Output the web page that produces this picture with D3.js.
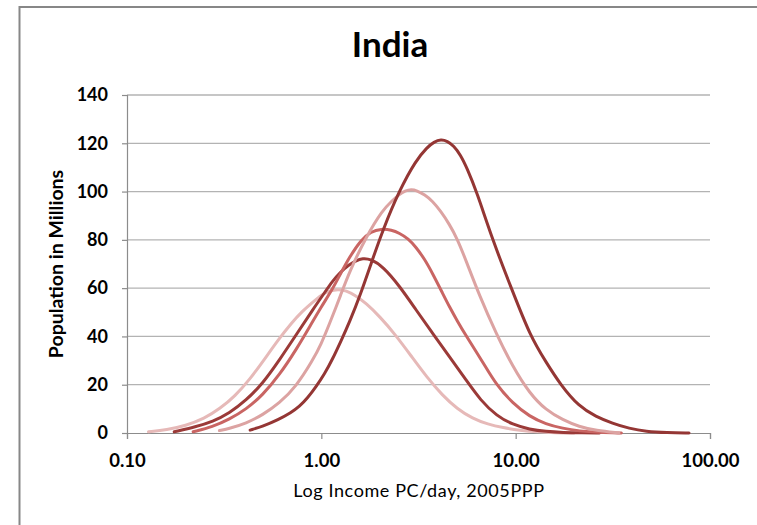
<!DOCTYPE html>
<html>
<head>
<meta charset="utf-8">
<script src="https://cdn.jsdelivr.net/npm/d3@7"></script>
<style>
  html, body { margin: 0; padding: 0; background: #fff; }
  svg { display: block; }
  text { font-family: "Lato", "Open Sans", sans-serif; fill: #000; }
</style>
</head>
<body>
<div id="chart"></div>
<script>
// Income distribution curves for India (population in millions by daily income, 2005 PPP)
const incomeA = [0.129, 0.16, 0.2, 0.25, 0.3, 0.36, 0.43, 0.5, 0.6, 0.7, 0.8, 0.9, 1.0, 1.1, 1.22, 1.34, 1.5, 1.7, 2.0, 2.4, 2.9, 3.5, 4.2, 5.0, 6.0, 7.2, 8.6, 10.5, 13, 16, 20];
const popA    = [0.5, 1.3, 3.0, 6.0, 10.0, 15.3, 22.4, 29.6, 38.6, 45.5, 50.5, 54.1, 57.2, 58.9, 59.6, 59.0, 57.0, 53.7, 48.2, 40.8, 31.9, 23.0, 15.6, 10.0, 6.0, 3.6, 2.2, 1.1, 0.4, 0.1, 0];

const incomeB = [0.175, 0.226, 0.276, 0.336, 0.41, 0.499, 0.608, 0.741, 0.902, 1.057, 1.14, 1.25, 1.39, 1.5, 1.632, 1.8, 2.07, 2.52, 3.07, 3.74, 4.56, 5.55, 6.6, 8.0, 9.65, 11.8, 14.3, 17.5, 22, 27];
const popB    = [0.5, 2.6, 4.7, 8.2, 13.5, 20.5, 30.2, 40.6, 51.0, 59.0, 62.8, 66.6, 69.7, 71.3, 72.4, 72.0, 69.0, 61.0, 51.0, 41.3, 31.6, 22.0, 13.5, 7.0, 3.5, 1.5, 0.6, 0.2, 0.05, 0];

const incomeC = [0.219, 0.276, 0.336, 0.41, 0.499, 0.608, 0.741, 0.885, 1.0, 1.14, 1.26, 1.39, 1.6, 1.8, 2.03, 2.3, 2.52, 2.8, 3.07, 3.4, 3.74, 4.2, 4.56, 5.0, 5.55, 6.76, 7.93, 9.65, 11.8, 14.3, 17.5, 21.2, 27, 35];
const popC    = [0.5, 2.6, 5.7, 9.8, 15.7, 24.0, 34.4, 45.0, 52.3, 59.5, 66.2, 72.6, 80, 83.4, 84.6, 84.1, 82.8, 80.5, 77, 72, 66, 58, 52.3, 46.5, 40.3, 29.5, 20.0, 12.3, 6.8, 3.7, 1.9, 0.8, 0.2, 0];

const incomeD = [0.299, 0.336, 0.41, 0.499, 0.608, 0.741, 0.902, 1.0, 1.099, 1.263, 1.39, 1.70, 2.07, 2.3, 2.52, 2.7, 2.9, 3.1, 3.4, 3.74, 4.1, 4.56, 5.0, 5.55, 6.5, 7.93, 9.65, 11.8, 14.3, 17.5, 21.2, 25.9, 34];
const popD    = [1.0, 1.9, 4.0, 7.5, 12.3, 19.2, 30.0, 37.0, 45.0, 57.5, 66.5, 81.3, 92.4, 96.0, 98.9, 100.3, 100.9, 100.4, 98.7, 96.0, 92.0, 86.5, 80.5, 71.5, 57.0, 41.3, 27.5, 16.4, 9.5, 5.4, 2.6, 1.0, 0];

const incomeE = [0.43, 0.5, 0.6, 0.7, 0.77, 0.85, 0.94, 1.04, 1.14, 1.26, 1.39, 1.6, 1.8, 2.07, 2.52, 3.07, 3.5, 3.8, 4.13, 4.45, 4.8, 5.2, 5.6, 6.3, 7.6, 9.5, 11.9, 14.3, 17.0, 21.2, 25.9, 31.5, 38.4, 46.8, 60, 78];
const popE    = [1.2, 2.8, 5.5, 8.5, 10.9, 14.5, 19.2, 24.5, 30.5, 38, 45.5, 58, 70, 84, 100.5, 113, 118.3, 120.6, 121.6, 120.9, 119, 115.2, 110, 100, 80, 60, 40, 29.5, 20, 10.9, 6.8, 4.0, 1.9, 0.6, 0.1, 0];

const seriesColors = ["#e6b9b8", "#9b3a38", "#c96563", "#dca3a2", "#943634"];

const xTicks = [0.1, 1, 10, 100];
const yTicks = [0, 20, 40, 60, 80, 100, 120, 140];

const chartTitle = "India";
const xTitle = "Log Income PC/day, 2005PPP";
const yTitle = "Population in Millions";

const series = [
  { income: incomeA, pop: popA },
  { income: incomeB, pop: popB },
  { income: incomeC, pop: popC },
  { income: incomeD, pop: popD },
  { income: incomeE, pop: popE }
].map((s, i) => ({
  color: seriesColors[i],
  points: s.income.map((v, j) => ({ x: v, y: s.pop[j] }))
}));

const W = 757, H = 525;
const plot = { left: 127, right: 710, top: 95, bottom: 433 };

const svg = d3.select("#chart").append("svg")
  .attr("width", W).attr("height", H);

svg.append("rect").attr("width", W).attr("height", H).attr("fill", "#fff");

// outer frame (left and top edges)
svg.append("path")
  .attr("d", `M19.5,${H} V7 H${W}`)
  .attr("fill", "none")
  .attr("stroke", "#878787")
  .attr("stroke-width", 2);

const x = d3.scaleLog().domain([0.1, 100]).range([plot.left, plot.right]);
const y = d3.scaleLinear().domain([0, 140]).range([plot.bottom, plot.top]);

// horizontal gridlines
svg.append("g")
  .selectAll("line")
  .data(yTicks.filter(d => d > 0))
  .join("line")
  .attr("x1", plot.left).attr("x2", plot.right)
  .attr("y1", d => y(d)).attr("y2", d => y(d))
  .attr("stroke", "#b3b3b3")
  .attr("stroke-width", 1.3);

// y axis
const yAxis = svg.append("g")
  .attr("transform", `translate(${plot.left},0)`)
  .call(d3.axisLeft(y).tickValues(yTicks).tickSize(5).tickPadding(14).tickFormat(d3.format("d")));
yAxis.select(".domain").attr("stroke", "#8c8c8c").attr("stroke-width", 1.2);
yAxis.selectAll(".tick line").attr("stroke", "#8c8c8c").attr("stroke-width", 1.2);
yAxis.selectAll(".tick text")
  .style("font-family", "Lato, 'Open Sans', sans-serif")
  .style("font-weight", "bold")
  .style("font-size", "18px")
  .attr("fill", "#000");

// x axis
const xAxis = svg.append("g")
  .attr("transform", `translate(0,${plot.bottom})`)
  .call(d3.axisBottom(x).tickValues(xTicks).tickSize(6).tickPadding(15).tickFormat(d3.format(".2f")));
xAxis.select(".domain").attr("stroke", "#8c8c8c").attr("stroke-width", 1.2);
xAxis.selectAll(".tick line").attr("stroke", "#8c8c8c").attr("stroke-width", 1.2);
xAxis.selectAll(".tick text")
  .style("font-family", "Lato, 'Open Sans', sans-serif")
  .style("font-weight", "bold")
  .style("font-size", "18.5px")
  .attr("fill", "#000");

// distribution curves (smoothed through the sampled points)
const line = d3.line()
  .x(d => x(d.x))
  .y(d => y(d.y))
  .curve(d3.curveBasis);

svg.append("g")
  .selectAll("path")
  .data(series)
  .join("path")
  .attr("d", d => line(d.points))
  .attr("fill", "none")
  .attr("stroke", d => d.color)
  .attr("stroke-width", 3)
  .attr("stroke-linecap", "round")
  .attr("stroke-linejoin", "round");

// titles
svg.append("text")
  .attr("x", 390).attr("y", 57)
  .attr("text-anchor", "middle")
  .style("font-size", "35px")
  .style("font-weight", "bold")
  .text(chartTitle);

svg.append("text")
  .attr("x", 419).attr("y", 497)
  .attr("text-anchor", "middle")
  .style("font-size", "18px")
  .style("letter-spacing", "0.6px")
  .text(xTitle);

svg.append("text")
  .attr("transform", "translate(63,264) rotate(-90)")
  .attr("text-anchor", "middle")
  .style("font-size", "19.5px")
  .style("font-weight", "bold")
  .text(yTitle);
</script>
</body>
</html>
